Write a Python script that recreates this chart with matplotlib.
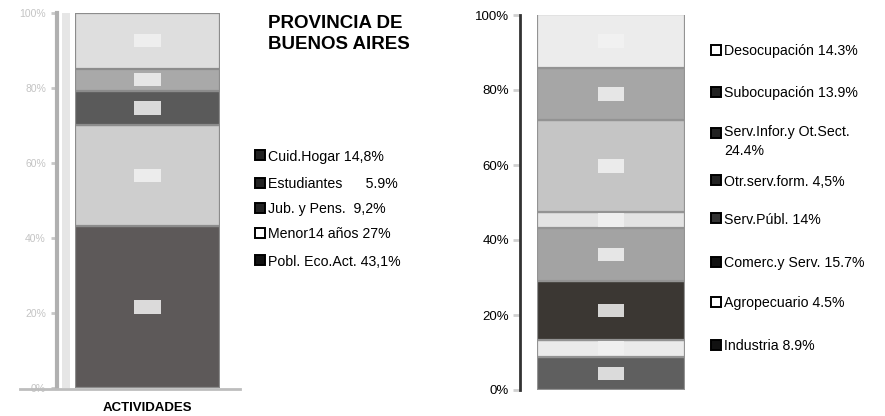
import matplotlib
matplotlib.use("Agg")
import matplotlib.pyplot as plt
from matplotlib.patches import Rectangle

plt.rcParams['font.family'] = ['Liberation Sans', 'DejaVu Sans']

# Activity structure, Provincia de Buenos Aires (stacked bottom -> top)
act_labels = ["Pobl. Eco.Act. 43,1%", "Menor14 años 27%", "Jub. y Pens.  9,2%",
              "Estudiantes      5.9%", "Cuid.Hogar 14,8%"]
act_values = [43.1, 27.0, 9.2, 5.9, 14.8]
act_colors = ["#5d5959", "#cecece", "#5a5a5a", "#a9a9a9", "#dedede"]
act_marker = ["#111111", "#ffffff", "#222222", "#222222", "#222222"]

# Occupational structure (stacked bottom -> top)
occ_labels = ["Industria 8.9%", "Agropecuario 4.5%", "Comerc.y Serv. 15.7%",
              "Serv.Públ. 14%", "Otr.serv.form. 4,5%", "Serv.Infor.y Ot.Sect.\n24.4%",
              "Subocupación 13.9%", "Desocupación 14.3%"]
occ_values = [8.9, 4.5, 15.7, 14.0, 4.5, 24.4, 13.9, 14.3]
occ_colors = ["#5f5f5f", "#ebebeb", "#3b3733", "#a3a3a3", "#e3e3e3",
              "#c5c5c5", "#a6a6a6", "#ececec"]
occ_marker = ["#111111", "#ffffff", "#111111", "#333333", "#222222",
              "#222222", "#222222", "#ffffff"]

pct_ticks = [0, 20, 40, 60, 80, 100]
pct_ticklabels = ["0%", "20%", "40%", "60%", "80%", "100%"]

W, H = 885, 416
fig = plt.figure(figsize=(W / 100, H / 100), dpi=100)


def px_axes(x0, y0, x1, y1):
    return fig.add_axes([x0 / W, 1 - y1 / H, (x1 - x0) / W, (y1 - y0) / H])


def stacked(ax, values, colors, edge):
    bottom = 0
    for v, c in zip(values, colors):
        ax.bar(0.5, v, width=1.0, bottom=bottom, color=c, edgecolor=edge,
               linewidth=1.6, zorder=2)
        # light value patch in the middle of each segment
        ax.add_patch(Rectangle((0.41, bottom + v / 2 - 1.8), 0.18, 3.6,
                               facecolor="#f2f2f2", edgecolor="none",
                               alpha=0.85, zorder=3))
        bottom += v


# ---- left chart ----
axL = px_axes(75, 13, 220, 388)
stacked(axL, act_values, act_colors, "#8c8c8c")
axL.set_xlim(0, 1)
axL.set_ylim(0, 100)
axL.axis("off")

axLy = px_axes(57, 13, 75, 388)
axLy.set_ylim(0, 100)
axLy.set_xlim(0, 1)
axLy.set_xticks([])
axLy.set_yticks(pct_ticks)
axLy.set_yticklabels(pct_ticklabels, fontsize=7.5, color="#c4c4c4")
axLy.tick_params(axis="y", length=4, width=2, color="#c8c8c8", pad=4)
for s in ("top", "right", "bottom"):
    axLy.spines[s].set_visible(False)
axLy.spines["left"].set_color("#b0b0b0")
axLy.spines["left"].set_linewidth(3)
axLy.axvspan(0.3, 0.7, color="#e6e6e6", lw=0)
fig.add_artist(plt.Line2D([20 / W, 240 / W], [1 - 389 / H] * 2,
                          color="#bdbdbd", lw=2))

fig.text(147 / W, 1 - 408 / H, "ACTIVIDADES", ha="center", va="center",
         fontsize=9.5, fontweight="bold")

fig.text(268 / W, 1 - 34 / H, "PROVINCIA DE\nBUENOS AIRES", ha="left",
         va="center", fontsize=13.5, fontweight="bold", linespacing=1.3)

# ---- right chart ----
axR = px_axes(537, 15, 685, 390)
stacked(axR, occ_values, occ_colors, "#939393")
axR.set_xlim(0, 1)
axR.set_ylim(0, 100)
axR.axis("off")

axRy = px_axes(520, 15, 537, 390)
axRy.set_ylim(0, 100)
axRy.set_xticks([])
axRy.set_yticks(pct_ticks)
axRy.set_yticklabels(pct_ticklabels, fontsize=9.5)
axRy.tick_params(axis="y", length=5, width=2, color="#d0d0d0", pad=3)
for s in ("top", "right", "bottom"):
    axRy.spines[s].set_visible(False)
axRy.spines["left"].set_color("#333333")
axRy.spines["left"].set_linewidth(2)


# ---- legends ----
def legend_column(labels, markers, x, ys):
    for lab, mc, y in zip(labels, markers, ys):
        fig.add_artist(Rectangle((x / W, 1 - (y + 5) / H), 10 / W, 10 / H,
                                 facecolor=mc, edgecolor="#000000", lw=1.4,
                                 transform=fig.transFigure))
        if "\n" in lab:
            fig.text((x + 13) / W, 1 - (y - 8) / H, lab, ha="left", va="top",
                     fontsize=10.2, linespacing=1.45)
        else:
            fig.text((x + 13) / W, 1 - y / H, lab, ha="left",
                     va="center_baseline", fontsize=10.2)


act_y = [260, 233, 208, 183, 155]
legend_column(act_labels, act_marker, 255, act_y)

occ_y = [345, 302, 262, 218, 180, 133, 92, 50]
legend_column(occ_labels, occ_marker, 711, occ_y)

fig.savefig("out.png", dpi=100)
